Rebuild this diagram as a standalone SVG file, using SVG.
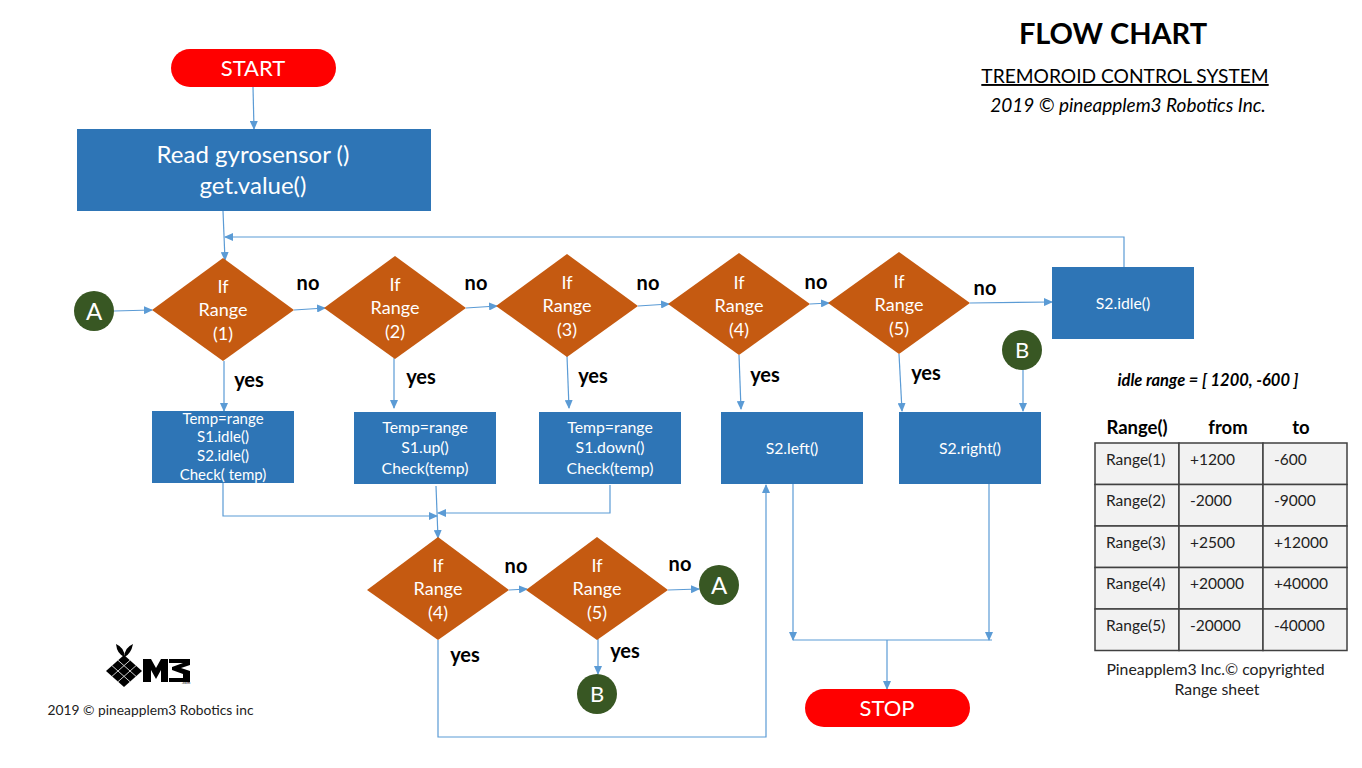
<svg xmlns="http://www.w3.org/2000/svg" width="1362" height="768" viewBox="0 0 1362 768">
<style>
text{font-family:Lato,"Open Sans",sans-serif;text-anchor:middle}
.w{fill:#fff}.k{fill:#000}
.box{fill:#2e75b6}.dia{fill:#c55a11}.term{fill:#ff0000}.conn{fill:#385723}
.c{fill:none;stroke:#5b9bd5;stroke-width:1.2}
.lb{font-size:20px;font-weight:700;fill:#000}
.d{font-size:18px;fill:#fff}
.b{font-size:15px;fill:#fff}
.b2{font-size:15.800px;fill:#fff}
.t{font-size:15.500px;fill:#222;text-anchor:start}
.th{font-size:18.500px;font-weight:700;fill:#000}
.cell{fill:#f2f2f2;stroke:#404040;stroke-width:1.5}
</style>
<defs>
<marker id="ah" markerWidth="9" markerHeight="8" refX="8" refY="4" orient="auto" markerUnits="userSpaceOnUse"><path d="M0 0L9 4L0 8Z" fill="#5b9bd5"/></marker>
</defs>
<rect width="1362" height="768" fill="#fff"/>
<g id="connectors">
<path class="c" marker-end="url(#ah)" d="M253 87L254 129"/>
<path class="c" marker-end="url(#ah)" d="M223 211L225 260"/>
<path class="c" marker-end="url(#ah)" d="M114 311L152 310"/>
<path class="c" marker-end="url(#ah)" d="M294 310L325 308"/>
<path class="c" marker-end="url(#ah)" d="M466 308L497 306"/>
<path class="c" marker-end="url(#ah)" d="M638 306L669 304"/>
<path class="c" marker-end="url(#ah)" d="M810 304L829 303"/>
<path class="c" marker-end="url(#ah)" d="M970 303L1052 302"/>
<path class="c" marker-end="url(#ah)" d="M1124 267V237H225"/>
<path class="c" marker-end="url(#ah)" d="M224 361V411"/>
<path class="c" marker-end="url(#ah)" d="M394 358V408"/>
<path class="c" marker-end="url(#ah)" d="M567 356L569 408"/>
<path class="c" marker-end="url(#ah)" d="M739 355L741 409"/>
<path class="c" marker-end="url(#ah)" d="M899 354L902 411"/>
<path class="c" marker-end="url(#ah)" d="M1023 369V411"/>
<path class="c" marker-end="url(#ah)" d="M223 483V516H437"/>
<path class="c" marker-end="url(#ah)" d="M610 485V513H438"/>
<path class="c" marker-end="url(#ah)" d="M436 486L438 538"/>
<path class="c" marker-end="url(#ah)" d="M509 590L527 589"/>
<path class="c" marker-end="url(#ah)" d="M668 590L699 589"/>
<path class="c" marker-end="url(#ah)" d="M598 639V674"/>
<path class="c" marker-end="url(#ah)" d="M438 640V737H766V485"/>
<path class="c" marker-end="url(#ah)" d="M793 484V640"/>
<path class="c" marker-end="url(#ah)" d="M989 484V640"/>
<path class="c" d="M793 640H992"/>
<path class="c" marker-end="url(#ah)" d="M887 640V689"/>
</g>
<g id="start"><rect class="term" x="171" y="49" width="165" height="38" rx="19"/><text class="w" x="253" y="76" font-size="22">START</text></g>
<g id="read"><rect class="box" x="77" y="129" width="354" height="82"/><text class="w" x="253" y="163" font-size="24">Read gyrosensor ()</text><text class="w" x="253" y="194" font-size="24">get.value()</text></g>
<g id="d1"><polygon class="dia" points="223,258 294,310 223,361 152,310"/><text class="d" x="223" y="293">If</text><text class="d" x="223" y="316">Range</text><text class="d" x="223" y="340">(1)</text></g>
<g id="d2"><polygon class="dia" points="395,256 466,308 395,359 324,308"/><text class="d" x="395" y="291">If</text><text class="d" x="395" y="314">Range</text><text class="d" x="395" y="338">(2)</text></g>
<g id="d3"><polygon class="dia" points="567,254 638,306 567,357 496,306"/><text class="d" x="567" y="289">If</text><text class="d" x="567" y="312">Range</text><text class="d" x="567" y="336">(3)</text></g>
<g id="d4"><polygon class="dia" points="739,253 810,304 739,355 668,304"/><text class="d" x="739" y="289">If</text><text class="d" x="739" y="312">Range</text><text class="d" x="739" y="336">(4)</text></g>
<g id="d5"><polygon class="dia" points="899,252 970,303 899,354 828,303"/><text class="d" x="899" y="288">If</text><text class="d" x="899" y="311">Range</text><text class="d" x="899" y="335">(5)</text></g>
<g id="d6"><polygon class="dia" points="438,537 509,590 438,640 367,590"/><text class="d" x="438" y="572">If</text><text class="d" x="438" y="595">Range</text><text class="d" x="438" y="619">(4)</text></g>
<g id="d7"><polygon class="dia" points="597,537 668,590 597,640 526,590"/><text class="d" x="597" y="572">If</text><text class="d" x="597" y="595">Range</text><text class="d" x="597" y="619">(5)</text></g>
<g id="idle"><rect class="box" x="1052" y="267" width="142" height="72"/><text class="b2" x="1123" y="309">S2.idle()</text></g>
<g id="b1"><rect class="box" x="152" y="411" width="142" height="72"/><text class="b" x="223" y="424">Temp=range</text><text class="b" x="223" y="442">S1.idle()</text><text class="b" x="223" y="461">S2.idle()</text><text class="b" x="223" y="480">Check( temp)</text></g>
<g id="b2"><rect class="box" x="354" y="412" width="142" height="72"/><text class="b2" x="425" y="433">Temp=range</text><text class="b2" x="425" y="453">S1.up()</text><text class="b2" x="425" y="474">Check(temp)</text></g>
<g id="b3"><rect class="box" x="539" y="412" width="142" height="72"/><text class="b2" x="610" y="433">Temp=range</text><text class="b2" x="610" y="453">S1.down()</text><text class="b2" x="610" y="474">Check(temp)</text></g>
<g id="b4"><rect class="box" x="721" y="412" width="142" height="72"/><text class="b2" x="792" y="454">S2.left()</text></g>
<g id="b5"><rect class="box" x="899" y="412" width="142" height="72"/><text class="b2" x="970" y="454">S2.right()</text></g>
<g id="stop"><rect class="term" x="805" y="689" width="165" height="38" rx="19"/><text class="w" x="887" y="716" font-size="22">STOP</text></g>
<g id="connA1"><circle class="conn" cx="94" cy="311" r="20"/><text class="w" x="94" y="320" font-size="24">A</text></g>
<g id="connA2"><circle class="conn" cx="719" cy="585" r="20"/><text class="w" x="719" y="594" font-size="24">A</text></g>
<g id="connB1"><circle class="conn" cx="1022" cy="350" r="20"/><text class="w" x="1022" y="358" font-size="22">B</text></g>
<g id="connB2"><circle class="conn" cx="597" cy="694" r="20"/><text class="w" x="597" y="702" font-size="22">B</text></g>
<g id="labels">
<text class="lb" x="308" y="290">no</text><text class="lb" x="476" y="290">no</text><text class="lb" x="648" y="290">no</text><text class="lb" x="816" y="289">no</text><text class="lb" x="985" y="295">no</text><text class="lb" x="516" y="573">no</text><text class="lb" x="680" y="571">no</text>
<text class="lb" x="249" y="387">yes</text><text class="lb" x="421" y="384">yes</text><text class="lb" x="593" y="383">yes</text><text class="lb" x="765" y="382">yes</text><text class="lb" x="926" y="380">yes</text><text class="lb" x="465" y="662">yes</text><text class="lb" x="625" y="658">yes</text>
</g>
<g id="title">
<text x="1113" y="44" font-size="29" font-weight="700" fill="#000">FLOW CHART</text>
<text x="1125" y="83" font-size="19.200" fill="#000" text-decoration="underline">TREMOROID CONTROL SYSTEM</text>
<text x="1128" y="112" font-size="19" font-style="italic" fill="#000">2019 © pineapplem3 Robotics Inc.</text>
</g>
<g id="range">
<text x="1208" y="386" font-size="16.500" font-weight="700" font-style="italic" fill="#000">idle range = [ 1200, -600 ]</text>
<text class="th" x="1137" y="434">Range()</text><text class="th" x="1228" y="434">from</text><text class="th" x="1301" y="434">to</text>
<rect class="cell" x="1095" y="443" width="84" height="41.500"/><rect class="cell" x="1179" y="443" width="84" height="41.500"/><rect class="cell" x="1263" y="443" width="84" height="41.500"/>
<rect class="cell" x="1095" y="484.500" width="84" height="41.500"/><rect class="cell" x="1179" y="484.500" width="84" height="41.500"/><rect class="cell" x="1263" y="484.500" width="84" height="41.500"/>
<rect class="cell" x="1095" y="526" width="84" height="41.500"/><rect class="cell" x="1179" y="526" width="84" height="41.500"/><rect class="cell" x="1263" y="526" width="84" height="41.500"/>
<rect class="cell" x="1095" y="567.500" width="84" height="41.500"/><rect class="cell" x="1179" y="567.500" width="84" height="41.500"/><rect class="cell" x="1263" y="567.500" width="84" height="41.500"/>
<rect class="cell" x="1095" y="609" width="84" height="41.500"/><rect class="cell" x="1179" y="609" width="84" height="41.500"/><rect class="cell" x="1263" y="609" width="84" height="41.500"/>
<text class="t" x="1106" y="465">Range(1)</text><text class="t" x="1190" y="465">+1200</text><text class="t" x="1274" y="465">-600</text>
<text class="t" x="1106" y="506">Range(2)</text><text class="t" x="1190" y="506">-2000</text><text class="t" x="1274" y="506">-9000</text>
<text class="t" x="1106" y="548">Range(3)</text><text class="t" x="1190" y="548">+2500</text><text class="t" x="1274" y="548">+12000</text>
<text class="t" x="1106" y="589">Range(4)</text><text class="t" x="1190" y="589">+20000</text><text class="t" x="1274" y="589">+40000</text>
<text class="t" x="1106" y="631">Range(5)</text><text class="t" x="1190" y="631">-20000</text><text class="t" x="1274" y="631">-40000</text>
<text x="1215.500" y="675" font-size="15.800" fill="#222">Pineapplem3 Inc.© copyrighted</text>
<text x="1217" y="695" font-size="15.800" fill="#222">Range sheet</text>
</g>
<g id="logo">
<path d="M116 644Q125 648 124.500 657Q117 654 116 644ZM133 644Q131 654 124.500 657Q124 648 133 644Z" fill="#000"/>
<path d="M124 655L142 671L124 687L106 671Z" fill="#000"/>
<path d="M118 660.300L136 676.300M112 665.700L130 681.700M130 660.300L112 676.300M136 665.700L118 681.700" stroke="#ccc" stroke-width="1" fill="none"/>
<path d="M143 682V659H151L156 668L161 659H168V682H161V670L156 679L151 670V682Z" fill="#000"/>
<path d="M169 659H190V665L181 668L190 671V682H169V678H183V674L172 670V667L183 663H169Z" fill="#000"/>
<text x="186" y="684" font-size="4" fill="#000">.com</text>
<text x="150.500" y="715" font-size="13.800" fill="#222">2019 © pineapplem3 Robotics inc</text>
</g>
</svg>
